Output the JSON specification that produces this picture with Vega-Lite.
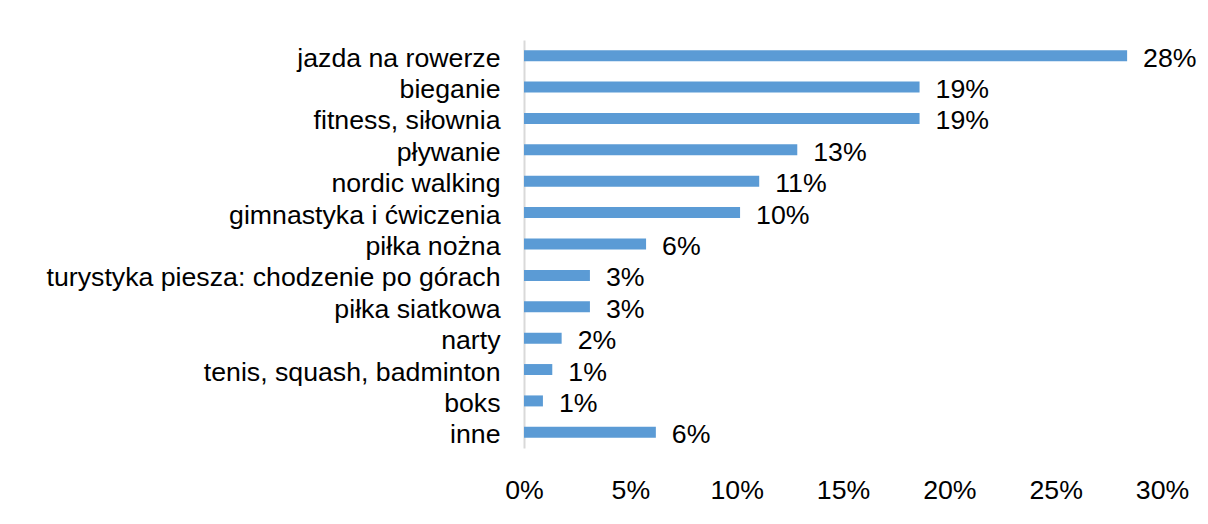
{
  "$schema": "https://vega.github.io/schema/vega-lite/v6.json",
  "autosize": {"type": "none"},
  "padding": {"left": 524, "top": 40, "right": 46, "bottom": 76},
  "width": 638,
  "height": 408,
  "background": "white",
  "config": {
    "view": {"stroke": null},
    "font": "Liberation Sans",
    "text": {"font": "Liberation Sans"}
  },
  "data": {
    "values": [
      {"aktywnosc": "jazda na rowerze", "udzial": 0.2836},
      {"aktywnosc": "bieganie", "udzial": 0.186},
      {"aktywnosc": "fitness, siłownia\u00a0", "udzial": 0.186},
      {"aktywnosc": "pływanie", "udzial": 0.1285},
      {"aktywnosc": "nordic walking", "udzial": 0.1106},
      {"aktywnosc": "gimnastyka i ćwiczenia", "udzial": 0.1016},
      {"aktywnosc": "piłka nożna", "udzial": 0.0574},
      {"aktywnosc": "turystyka piesza: chodzenie po górach\u00a0", "udzial": 0.031},
      {"aktywnosc": "piłka siatkowa", "udzial": 0.031},
      {"aktywnosc": "narty", "udzial": 0.0177},
      {"aktywnosc": "tenis, squash, badminton\u00a0", "udzial": 0.0133},
      {"aktywnosc": "boks", "udzial": 0.0089},
      {"aktywnosc": "inne", "udzial": 0.062}
    ]
  },
  "encoding": {
    "y": {
      "field": "aktywnosc",
      "type": "nominal",
      "sort": null,
      "title": null,
      "scale": {"paddingInner": 0.65, "paddingOuter": 0.325},
      "axis": {
        "domain": true,
        "domainColor": "#d9d9d9",
        "domainWidth": 2,
        "ticks": false,
        "labelPadding": 24,
        "labelFontSize": 26.7,
        "labelFont": "Liberation Sans",
        "labelColor": "#000000",
        "labelBaseline": "middle",
        "labelOffset": 3,
        "labelLimit": 600,
        "grid": false
      }
    },
    "x": {
      "field": "udzial",
      "type": "quantitative",
      "title": null,
      "scale": {"domain": [0, 0.3], "nice": false},
      "axis": {
        "values": [0, 0.05, 0.1, 0.15, 0.2, 0.25, 0.3],
        "format": ".0%",
        "domain": false,
        "ticks": false,
        "grid": false,
        "labelPadding": 29,
        "labelFontSize": 26.7,
        "labelFont": "Liberation Sans",
        "labelColor": "#000000",
        "labelFlush": false,
        "labelOverlap": false
      }
    }
  },
  "layer": [
    {"mark": {"type": "bar", "color": "#5b9bd5"}},
    {
      "mark": {"type": "text", "align": "left", "baseline": "middle", "dx": 16, "dy": 3, "fontSize": 26.7, "font": "Liberation Sans", "color": "#000000"},
      "encoding": {"text": {"field": "udzial", "type": "quantitative", "format": ".0%"}}
    }
  ]
}
